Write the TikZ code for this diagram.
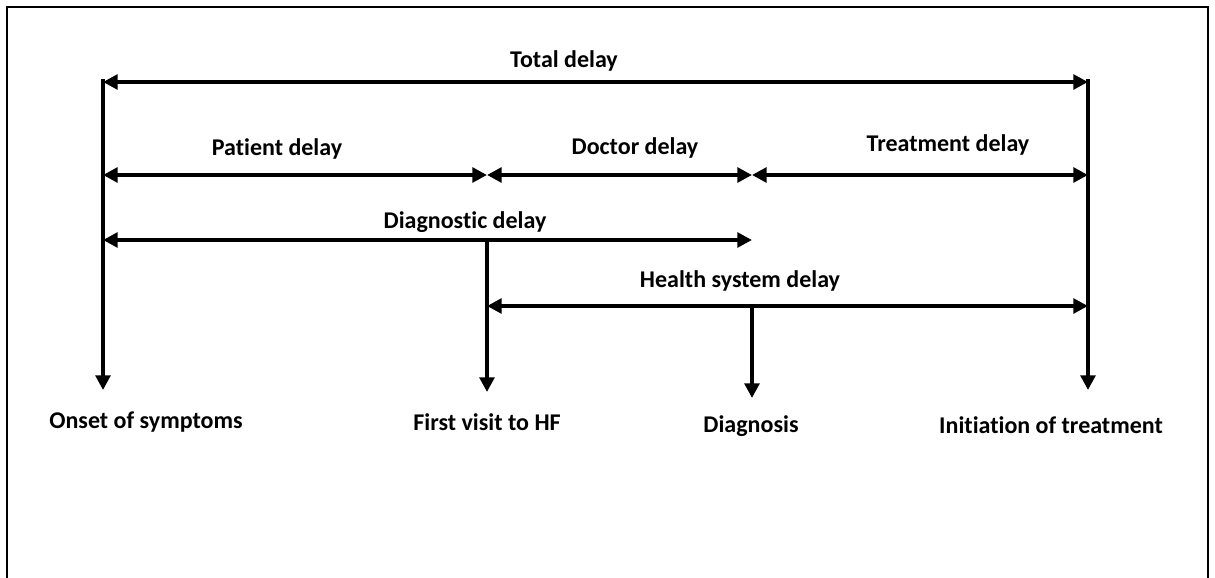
\documentclass[tikz,border=0pt]{standalone}
\usepackage{fontspec}
\setmainfont{Carlito}[Ligatures=NoCommon]
\usetikzlibrary{arrows.meta}

\begin{document}
\begin{tikzpicture}[x=0.75pt,y=-0.75pt,line width=2.9pt,
	>={Triangle[length=11pt,width=11pt]},
	lab/.style={font=\bfseries\fontsize{18}{21}\selectfont,inner sep=0pt}]
\useasboundingbox (0,0) rectangle (1215,578);
\draw[line width=2.1pt] (7,578) -- (7,7) -- (1208,7) -- (1208,578);

% time points
\coordinate (onset) at (103,79);
\coordinate (visit) at (487,240);
\coordinate (diag) at (752,306);
\coordinate (treat) at (1088,79);
\coordinate (onset-end) at (103,390);
\coordinate (visit-end) at (487,392);
\coordinate (diag-end) at (752,398);
\coordinate (treat-end) at (1088,390);

% ends of the delay arrows
\coordinate (tot-l) at (103,82);
\coordinate (tot-r) at (1088,82);
\coordinate (pat-l) at (103,175);
\coordinate (pat-r) at (487,175);
\coordinate (doc-r) at (752,175);
\coordinate (trt-r) at (1088,175);
\coordinate (dgn-l) at (103,240);
\coordinate (dgn-r) at (752,240);
\coordinate (hs-l) at (487,306);
\coordinate (hs-r) at (1088,306);

\node[lab] (onsetlab) at (146,422) {Onset of symptoms};
\node[lab] (visitlab) at (487,422) {First visit to HF};
\node[lab] (diaglab) at (751,426) {Diagnosis};
\node[lab] (treatlab) at (1051,425) {Initiation of treatment};

\path[->]
(onset) edge (onset-end)
(visit) edge (visit-end)
(diag) edge (diag-end)
(treat) edge (treat-end);

\path[<->]
(tot-l) edge (tot-r)
(pat-l) edge (pat-r)
(pat-r) edge (doc-r)
(doc-r) edge (trt-r)
(dgn-l) edge (dgn-r)
(hs-l) edge (hs-r);

\node[lab] (totlab) at (564,61) {Total delay};
\node[lab] (patlab) at (277,149) {Patient delay};
\node[lab] (doclab) at (635,148) {Doctor delay};
\node[lab] (trtlab) at (948,145) {Treatment delay};
\node[lab] (dgnlab) at (465,222) {Diagnostic delay};
\node[lab] (hslab) at (740,281) {Health system delay};
\end{tikzpicture}
\end{document}
